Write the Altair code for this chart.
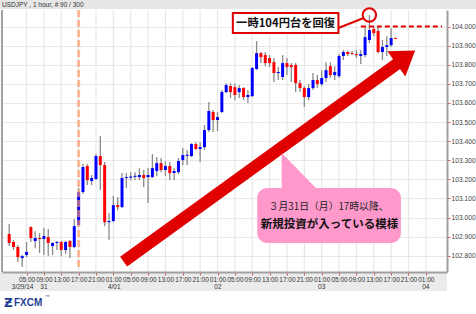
import altair as alt
import pandas as pd

# ---------------- data (USD/JPY, 1 hour) ----------------
hours = list(range(1, 91))
open_ = [102.914, 102.872, 102.846, 102.788, 102.804, 102.950, 102.877, 102.893, 102.888, 102.898,
         102.851, 102.867, 102.872, 102.830, 102.877, 102.846, 102.961, 103.134, 103.270, 103.191,
         103.202, 103.322, 103.275, 102.976, 102.982, 103.065, 103.055, 103.207, 103.209, 103.215,
         103.212, 103.223, 103.212, 103.212, 103.244, 103.285, 103.249, 103.270, 103.233, 103.238,
         103.301, 103.325, 103.322, 103.385, 103.359, 103.369, 103.458, 103.553, 103.511, 103.553,
         103.657, 103.689, 103.683, 103.657, 103.678, 103.631, 103.636, 103.778, 103.861, 103.851,
         103.835, 103.814, 103.757, 103.736, 103.809, 103.799, 103.799, 103.704, 103.678, 103.631,
         103.678, 103.720, 103.699, 103.731, 103.793, 103.746, 103.741, 103.846, 103.867, 103.861,
         103.856, 103.846, 103.851, 103.930, 103.987, 103.977, 103.867, 103.893, 103.903, 103.940]
high = [102.966, 102.882, 102.856, 102.804, 102.872, 102.955, 102.929, 102.919, 102.945, 102.940,
        102.872, 102.877, 102.877, 102.877, 102.882, 102.992, 103.155, 103.280, 103.280, 103.223,
        103.333, 103.427, 103.291, 103.024, 103.113, 103.107, 103.233, 103.233, 103.238, 103.238,
        103.259, 103.249, 103.259, 103.333, 103.317, 103.312, 103.296, 103.291, 103.259, 103.312,
        103.364, 103.354, 103.390, 103.395, 103.395, 103.484, 103.605, 103.563, 103.553, 103.668,
        103.704, 103.704, 103.704, 103.694, 103.683, 103.668, 103.788, 103.924, 103.867, 103.867,
        103.851, 103.835, 103.788, 103.851, 103.835, 103.809, 103.809, 103.720, 103.689, 103.699,
        103.757, 103.746, 103.772, 103.814, 103.814, 103.793, 103.856, 103.877, 103.872, 103.872,
        103.877, 103.877, 103.998, 104.060, 104.003, 103.998, 103.930, 103.950, 103.992, 103.941]
low = [102.851, 102.830, 102.767, 102.741, 102.793, 102.872, 102.840, 102.814, 102.804, 102.798,
       102.804, 102.830, 102.798, 102.809, 102.788, 102.840, 102.955, 103.123, 103.170, 103.170,
       103.196, 103.144, 102.955, 102.882, 102.976, 103.039, 103.050, 103.155, 103.196, 103.196,
       103.196, 103.160, 103.076, 103.207, 103.217, 103.238, 103.217, 103.196, 103.196, 103.228,
       103.275, 103.275, 103.317, 103.354, 103.291, 103.354, 103.448, 103.448, 103.453, 103.547,
       103.652, 103.626, 103.615, 103.626, 103.615, 103.600, 103.631, 103.772, 103.809, 103.793,
       103.788, 103.710, 103.720, 103.720, 103.746, 103.710, 103.657, 103.657, 103.579, 103.615,
       103.668, 103.678, 103.689, 103.710, 103.731, 103.720, 103.731, 103.825, 103.846, 103.851,
       103.835, 103.804, 103.840, 103.914, 103.950, 103.861, 103.825, 103.846, 103.893, 103.936]
close = [102.867, 102.846, 102.793, 102.798, 102.820, 102.893, 102.893, 102.888, 102.903, 102.867,
         102.867, 102.872, 102.830, 102.872, 102.846, 102.955, 103.134, 103.265, 103.196, 103.207,
         103.322, 103.275, 102.976, 102.982, 103.065, 103.055, 103.207, 103.212, 103.215, 103.217,
         103.223, 103.207, 103.223, 103.259, 103.285, 103.249, 103.270, 103.233, 103.244, 103.296,
         103.327, 103.327, 103.385, 103.359, 103.369, 103.458, 103.558, 103.511, 103.526, 103.657,
         103.694, 103.657, 103.642, 103.678, 103.631, 103.642, 103.783, 103.861, 103.840, 103.809,
         103.809, 103.757, 103.762, 103.809, 103.788, 103.788, 103.704, 103.678, 103.631, 103.678,
         103.720, 103.699, 103.731, 103.772, 103.746, 103.762, 103.846, 103.867, 103.856, 103.856,
         103.851, 103.856, 103.945, 103.982, 103.966, 103.867, 103.893, 103.903, 103.940, 103.937]

hour_ticks = [5, 9, 13, 17, 21, 25, 29, 33, 37, 41, 45, 49, 53, 57, 61, 65, 69, 73, 77, 81, 85, 89, 93, 97]
price_ticks = [102.8, 102.9, 103.0, 103.1, 103.2, 103.3, 103.4, 103.5, 103.6, 103.7, 103.8, 103.9, 104.0]
date_pos = [4.1, 9.0, 25.2, 49.1, 73.0, 97.0]
date_labels = ["3/29/14", "31", "4/01", "02", "03", "04"]

df = pd.DataFrame({"h": hours, "open": open_, "high": high, "low": low, "close": close})

xs = alt.Scale(domain=[0.5, 100.72], nice=False, zero=False)
ys = alt.Scale(domain=[102.715, 104.087], nice=False, zero=False)
RED = "#e00000"
PINK = "#ff99cc"
CJK = "Noto Sans CJK JP"

XAXIS = alt.Axis(values=hour_ticks, grid=False, title=None,
                 labelExpr="(datum.value % 24 < 10 ? '0' : '') + (datum.value % 24) + ':00'",
                 domainColor="#a0a0a0", domainWidth=2, tickColor="#e05050", tickSize=3,
                 labelFontSize=6.5, labelColor="#333", labelFont="Liberation Sans",
                 labelPadding=1, zindex=1)
YAXIS = alt.Axis(orient="right", values=price_ticks, format=".3f",
                 grid=True, gridColor="#e8e8e8", gridWidth=1.2, title=None,
                 domainColor="#a0a0a0", domainWidth=2, tickColor="#e06060", tickSize=3,
                 labelFontSize=6.7, labelColor="#444", labelFont="Liberation Sans",
                 labelPadding=1, zindex=0)


def X(f):
    return alt.X(f, scale=xs, axis=XAXIS)


def Y(f):
    return alt.Y(f, scale=ys, axis=YAXIS)


one = pd.DataFrame({"a": [0]})

# background bands (title strip + x label strip)
top_band = alt.Chart(one).mark_rect(color="#e6e6e6").encode(
    x=alt.value(-2), x2=alt.value(474), y=alt.value(-10), y2=alt.value(-1))
bottom_band = alt.Chart(one).mark_rect(color="#ebebeb").encode(
    x=alt.value(-2), x2=alt.value(445), y=alt.value(262), y2=alt.value(281))
title_txt = alt.Chart(one).mark_text(align="left", baseline="middle", fontSize=6.5,
                                     font="Liberation Sans", color="#333").encode(
    x=alt.value(0), y=alt.value(-5), text=alt.value("USDJPY , 1 hour, # 90 / 300"))

vgrid = alt.Chart(pd.DataFrame({"h": hour_ticks})).mark_rule(color="#e8e8e8", strokeWidth=1.2).encode(
    x=X("h:Q"), y=alt.value(0), y2=alt.value(262))

wick = alt.Chart(df).mark_rule(color="#8a8a8a", strokeWidth=1.3).encode(
    x=X("h:Q"), y=Y("low:Q"), y2="high:Q")

body = alt.Chart(df).transform_calculate(
    mid="(datum.open + datum.close) / 2",
    tall="abs(datum.close - datum.open) < 0.005",
    top="datum.tall ? datum.mid + 0.0028 : max(datum.open, datum.close)",
    bot="datum.tall ? datum.mid - 0.0028 : min(datum.open, datum.close)",
    up="datum.close >= datum.open ? 'up' : 'down'",
).mark_bar(size=3).encode(
    x=X("h:Q"), y=Y("top:Q"), y2="bot:Q",
    color=alt.Color("up:N", scale=alt.Scale(domain=["up", "down"], range=["#0000ff", "#ff0000"]),
                    legend=None))

left_border = alt.Chart(one).mark_rule(color="#a0a0a0", strokeWidth=2).encode(
    x=alt.value(0), y=alt.value(0), y2=alt.value(262))

dates = alt.Chart(pd.DataFrame({"h": date_pos, "t": date_labels})).mark_text(
    fontSize=6.5, font="Liberation Sans", color="#333", baseline="middle").encode(
    x=X("h:Q"), y=alt.value(277), text="t:N")

# vertical dashed marker at 3/31 17:00
marker = alt.Chart(pd.DataFrame({"h": [17]})).mark_rule(
    color="#ff9a66", opacity=0.65, strokeWidth=3, strokeDash=[7, 3]).encode(
    x=X("h:Q"), y=alt.value(0), y2=alt.value(260))

# big red arrow
shaft = alt.Chart(pd.DataFrame({"x1": [27.37], "y1": [102.769], "x2": [90.59], "y2": [103.809]})).mark_rule(
    color=RED, strokeWidth=12, strokeCap="butt").encode(
    x=X("x1:Q"), y=Y("y1:Q"), x2="x2:Q", y2="y2:Q")
head = alt.Chart(pd.DataFrame({"x": [92.09], "y": [103.835]})).mark_point(
    shape="M0,-1.3L1.55,1L-1.55,1Z", filled=True, size=400, angle=54.7, color=RED,
    opacity=1, strokeWidth=0).encode(x=X("x:Q"), y=Y("y:Q"))

# pink callout
callout = alt.Chart(pd.DataFrame({"x1": [58.15], "x2": [91.26], "y1": [103.155], "y2": [102.867]})).mark_rect(
    color=PINK, cornerRadius=10).encode(x=X("x1:Q"), x2="x2:Q", y=Y("y1:Q"), y2="y2:Q")
pointer = alt.Chart(pd.DataFrame({"x": [63.79, 71.89], "t": [103.338, 103.150], "b": [103.150, 103.150]})).mark_area(
    color=PINK).encode(x=X("x:Q"), y=Y("t:Q"), y2="b:Q")
call1 = alt.Chart(pd.DataFrame({"x": [74.6], "y": [103.055], "t": ["３月31日（月）17時以降、"]})).mark_text(
    font=CJK, fontSize=9.8, color="#222", baseline="middle").encode(x=X("x:Q"), y=Y("y:Q"), text="t:N")
call2 = alt.Chart(pd.DataFrame({"x": [74.8], "y": [102.961], "t": ["新規投資が入っている模様"]})).mark_text(
    font=CJK, fontSize=11.5, fontWeight="bold", color="#111", baseline="middle").encode(
    x=X("x:Q"), y=Y("y:Q"), text="t:N")

# red box annotation
box = alt.Chart(pd.DataFrame({"x1": [52.53], "x2": [76.85], "y1": [104.071], "y2": [103.967]})).mark_rect(
    fill="white", stroke=RED, strokeWidth=2).encode(x=X("x1:Q"), x2="x2:Q", y=Y("y1:Q"), y2="y2:Q")
box_txt = alt.Chart(pd.DataFrame({"x": [64.69], "y": [104.016], "t": ["一時104円台を回復"]})).mark_text(
    font=CJK, fontSize=11.3, fontWeight="bold", color="#111", baseline="middle").encode(
    x=X("x:Q"), y=Y("y:Q"), text="t:N")
connector = alt.Chart(pd.DataFrame({"x1": [76.85], "y1": [103.993], "x2": [82.7], "y2": [104.045]})).mark_rule(
    color=RED, strokeWidth=2).encode(x=X("x1:Q"), y=Y("y1:Q"), x2="x2:Q", y2="y2:Q")
ring = alt.Chart(pd.DataFrame({"x": [83.99], "y": [104.061]})).mark_point(
    shape="circle", filled=False, size=180, color=RED, strokeWidth=2, opacity=1).encode(
    x=X("x:Q"), y=Y("y:Q"))
level = alt.Chart(pd.DataFrame({"x1": [82.03], "x2": [100.72], "y": [104.0]})).mark_rule(
    color=RED, strokeWidth=2, strokeDash=[5, 3]).encode(x=X("x1:Q"), x2="x2:Q", y=Y("y:Q"))

# logo
logo_mark = alt.Chart(one).mark_text(align="left", baseline="middle", fontSize=12, fontWeight="bold",
                                     font="DejaVu Sans", color="#1f3f95").encode(
    x=alt.value(2), y=alt.value(293), text=alt.value("Ƶ"))
logo_txt = alt.Chart(one).mark_text(align="left", baseline="middle", fontSize=10, fontWeight="bold",
                                    font="Liberation Sans", color="#1f3f95").encode(
    x=alt.value(12), y=alt.value(293), text=alt.value("FXCM"))
logo_tm = alt.Chart(one).mark_text(align="left", baseline="middle", fontSize=4.5,
                                   font="Liberation Sans", color="#1f3f95").encode(
    x=alt.value(43), y=alt.value(287), text=alt.value("™"))

chart = alt.layer(
    top_band, bottom_band, vgrid, wick, body, left_border, dates, title_txt,
    shaft, head, pointer, callout, call1, call2,
    marker, level, connector, box, box_txt, ring,
    logo_mark, logo_txt, logo_tm,
).properties(
    width=445, height=262,
    padding={"left": 2, "top": 10, "right": 29, "bottom": 42},
    autosize=alt.AutoSizeParams(type="none"),
    background="white",
).configure_view(stroke=None)

chart.save("out.html", embed_options={"renderer": "svg", "actions": False})
